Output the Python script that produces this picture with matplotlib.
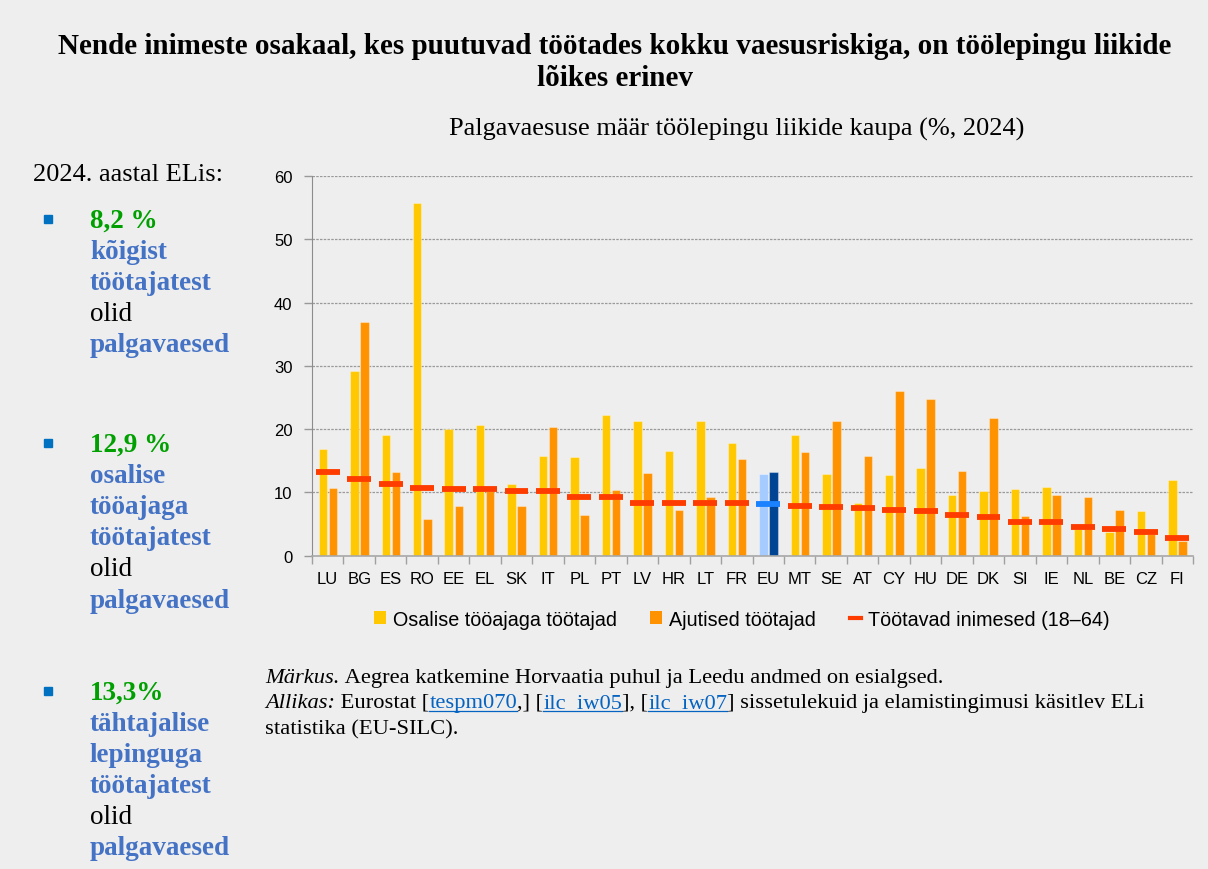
import matplotlib
matplotlib.use('Agg')
import matplotlib.pyplot as plt
import numpy as np
from matplotlib.patches import Patch
from matplotlib.lines import Line2D

# data
countries = ['LU', 'BG', 'ES', 'RO', 'EE', 'EL', 'SK', 'IT', 'PL', 'PT', 'LV', 'HR', 'LT', 'FR',
             'EU', 'MT', 'SE', 'AT', 'CY', 'HU', 'DE', 'DK', 'SI', 'IE', 'NL', 'BE', 'CZ', 'FI']
part_time = [16.8, 29.2, 19.1, 55.7, 20.1, 20.6, 11.3, 15.7, 15.6, 22.3, 21.3, 16.6, 21.3, 17.8,
             12.9, 19.0, 12.9, 8.3, 12.8, 13.8, 9.6, 10.2, 10.5, 10.8, 4.2, 3.8, 7.0, 12.0]
temporary = [10.7, 36.9, 13.2, 5.8, 7.8, 10.2, 7.8, 20.4, 6.4, 10.4, 13.0, 7.2, 9.3, 15.3,
             13.3, 16.4, 21.3, 15.7, 26.0, 24.8, 13.4, 21.8, 6.3, 9.6, 9.3, 7.3, 3.4, 2.4]
employed = [13.3, 12.1, 11.3, 10.7, 10.5, 10.5, 10.3, 10.3, 9.2, 9.2, 8.4, 8.4, 8.4, 8.3,
            8.2, 7.8, 7.7, 7.5, 7.3, 7.0, 6.5, 6.1, 5.4, 5.3, 4.5, 4.2, 3.7, 2.8]
yticks = [0, 10, 20, 30, 40, 50, 60]

title_lines = ['Nende inimeste osakaal, kes puutuvad töötades kokku vaesusriskiga, on töölepingu liikide',
               'lõikes erinev']
subtitle = 'Palgavaesuse määr töölepingu liikide kaupa (%, 2024)'
legend_labels = ['Osalise tööajaga töötajad', 'Ajutised töötajad', 'Töötavad inimesed (18–64)']

GREEN = '#00A000'
BLUE = '#4472C4'
BLACK = '#000000'
bullets = [
    [('8,2 %', GREEN), ('kõigist', BLUE), ('töötajatest', BLUE), ('olid', BLACK), ('palgavaesed', BLUE)],
    [('12,9 %', GREEN), ('osalise', BLUE), ('tööajaga', BLUE), ('töötajatest', BLUE), ('olid', BLACK),
     ('palgavaesed', BLUE)],
    [('13,3%', GREEN), ('tähtajalise', BLUE), ('lepinguga', BLUE), ('töötajatest', BLUE), ('olid', BLACK),
     ('palgavaesed', BLUE)],
]
bullet_tops = [221, 445, 693]

W, H = 1208, 870
BG = '#EEEEEE'
SERIF = ['Liberation Serif', 'DejaVu Serif']
SANS = ['Liberation Sans', 'DejaVu Sans']

c_yellow = '#FFC800'
c_orange = '#FF9200'
c_red = '#FF3C00'
c_eu1 = '#A6CCFF'
c_eu2 = '#004494'
c_eu_line = '#1A82FF'


def fx(x):
    return x / W


def fy(y):
    return 1 - y / H


fig = plt.figure(figsize=(W / 100, H / 100), dpi=100, facecolor=BG)
ax = fig.add_axes([fx(312), fy(556.7), fx(1193) - fx(312), fy(177) - fy(556.7)])
ax.set_facecolor(BG)

x = np.arange(len(countries))
eu = countries.index('EU')
col1 = [c_eu1 if i == eu else c_yellow for i in x]
col2 = [c_eu2 if i == eu else c_orange for i in x]
col3 = [c_eu_line if i == eu else c_red for i in x]

bw = 0.27
ax.bar(x - 0.155, part_time, bw, color=col1, edgecolor=(1, 1, 1, 0.35), linewidth=0.8, zorder=2)
ax.bar(x + 0.165, temporary, bw, color=col2, edgecolor=(1, 1, 1, 0.35), linewidth=0.8, zorder=2)
ax.hlines(employed, x - 0.38, x + 0.38, colors=col3, linewidth=4.2, zorder=3)

ax.set_xlim(-0.5, len(countries) - 0.5)
ax.set_ylim(0, 60)
ax.set_yticks(yticks)
ax.set_xticks(x)
ax.set_xticklabels(countries, family=SANS, fontsize=12)
ax.set_xticks(np.arange(len(countries) + 1) - 0.5, minor=True)
ax.tick_params(axis='x', which='major', length=0, pad=11)
ax.tick_params(axis='x', which='minor', length=6, color='#A0A0A0', width=1)
ax.tick_params(axis='y', length=6, color='#999999', width=1, pad=8, labelsize=12)
for lab in ax.get_yticklabels():
    lab.set_family(SANS)
ax.yaxis.grid(True, linestyle=(0, (2, 1)), color='#9A9A9A', linewidth=0.9, zorder=0)
ax.set_axisbelow(True)
for s in ['top', 'right']:
    ax.spines[s].set_visible(False)
ax.spines['left'].set_color('#8C8C8C')
ax.spines['bottom'].set_color('#A8A8A8')
ax.spines['bottom'].set_linewidth(1.2)

# titles
fig.text(fx(615), fy(47), title_lines[0], ha='center', va='center', family=SERIF,
         fontweight='bold', fontsize=21)
fig.text(fx(615), fy(78), title_lines[1], ha='center', va='center', family=SERIF,
         fontweight='bold', fontsize=21)
fig.text(fx(737), fy(129), subtitle, ha='center', va='center', family=SERIF, fontsize=19)

# legend
handles = [Patch(facecolor=c_yellow), Patch(facecolor=c_orange),
           Line2D([0], [0], color=c_red, lw=3)]
fig.legend(handles, legend_labels, loc='center', bbox_to_anchor=(fx(742), fy(620)), ncol=3,
           frameon=False, prop={'family': SANS, 'size': 14.2}, handlelength=0.6,
           handleheight=0.6, handletextpad=0.35, columnspacing=1.7)

# left panel
fig.text(fx(33), fy(175), '2024. aastal ELis:', ha='left', va='center', family=SERIF, fontsize=19)
for top, block in zip(bullet_tops, bullets):
    fig.add_artist(Line2D([fx(48)], [fy(top - 1)], marker='s', markersize=5.8, color='#0070C0',
                          linestyle='none', transform=fig.transFigure))
    for k, (txt, col) in enumerate(block):
        bold = 'normal' if col == BLACK else 'bold'
        fig.text(fx(90), fy(top + k * 31.2), txt, ha='left', va='center', family=SERIF,
                 fontsize=19.5, fontweight=bold, color=col)

# notes
renderer = fig.canvas.get_renderer()
LINK = '#0563C1'


def write_line(pieces, x0, y0, size=16.2):
    xp = x0
    for txt, style in pieces:
        kw = dict(family=SERIF, fontsize=size, ha='left', va='baseline')
        if style == 'italic':
            kw['style'] = 'italic'
        if style == 'link':
            kw['color'] = LINK
        t = fig.text(fx(xp), fy(y0), txt, **kw)
        bb = t.get_window_extent(renderer)
        if style == 'link':
            fig.add_artist(Line2D([bb.x0 / W, bb.x1 / W], [(bb.y0 + 1) / H] * 2, color=LINK,
                                  lw=0.9, transform=fig.transFigure))
        xp = bb.x1


write_line([('Märkus.', 'italic'), ('\u00a0Aegrea katkemine Horvaatia puhul ja Leedu andmed on esialgsed.', 'n')],
           265, 683)
write_line([('Allikas:', 'italic'), ('\u00a0Eurostat [', 'n'), ('tespm070', 'link'), (',] [', 'n'),
            ('ilc_iw05', 'link'), ('], [', 'n'), ('ilc_iw07', 'link'),
            ('] sissetulekuid ja elamistingimusi käsitlev ELi', 'n')], 265, 708)
write_line([('statistika (EU-SILC).', 'n')], 265, 734)

fig.savefig('out.png', dpi=100, facecolor=BG)
